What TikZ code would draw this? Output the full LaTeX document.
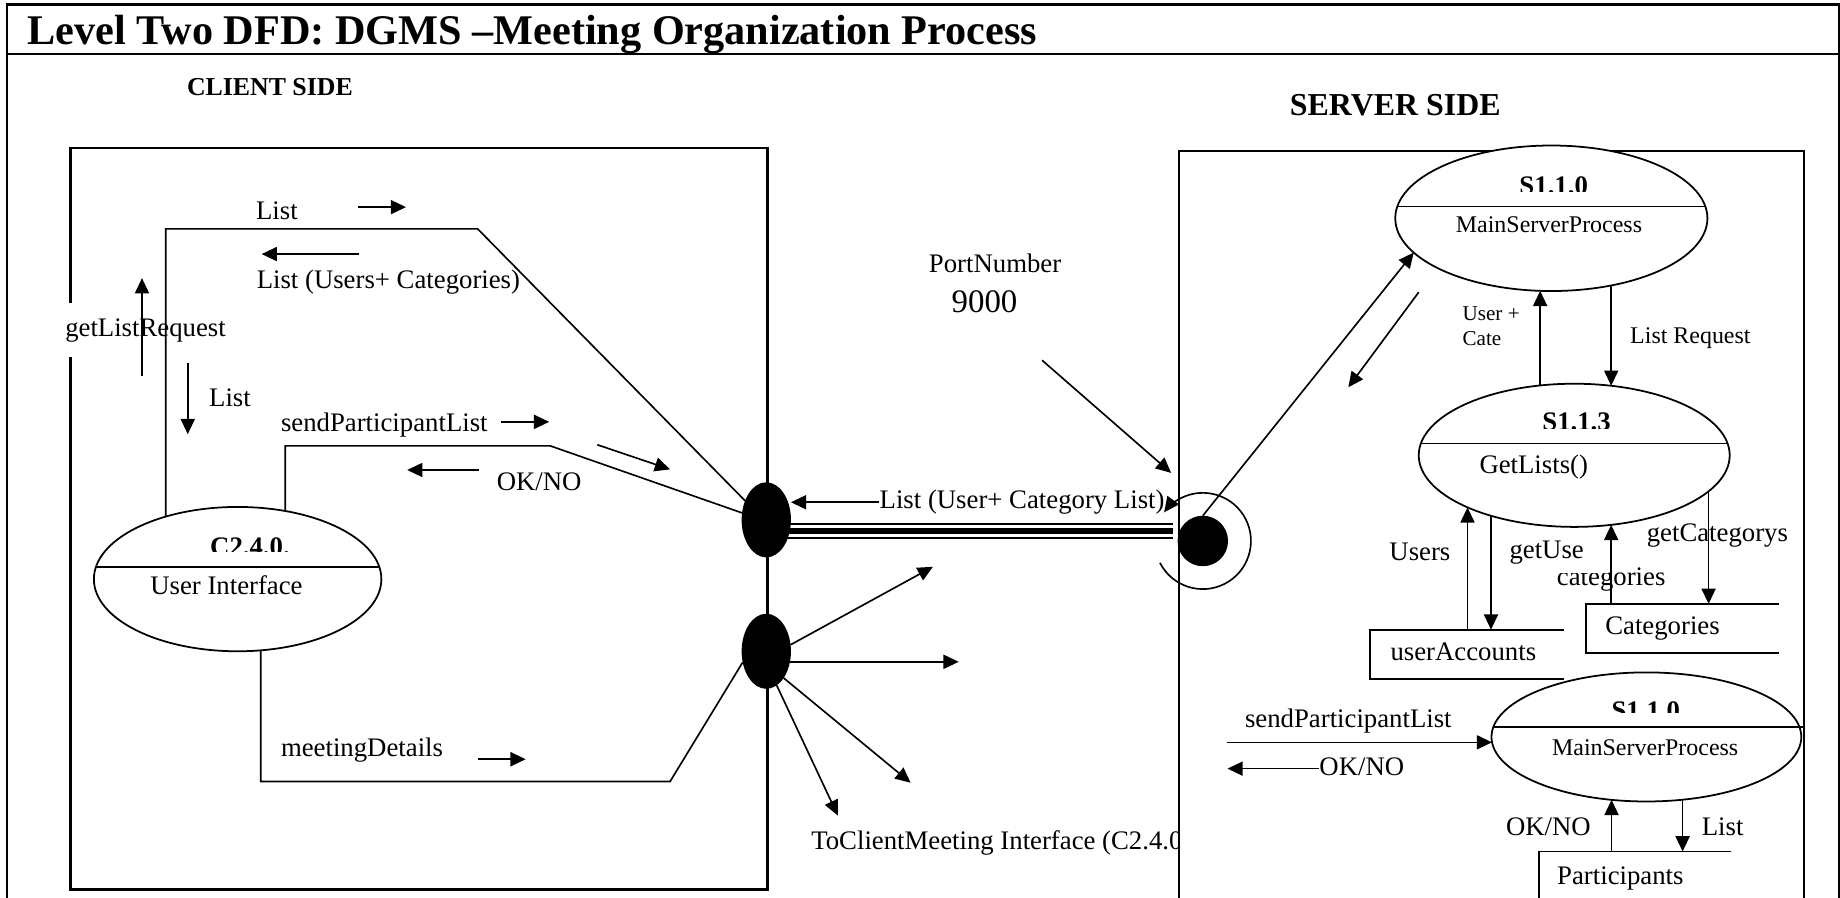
\documentclass[tikz,border=0pt]{standalone}
\usepackage{fontspec}
\setmainfont{Liberation Serif}
\usetikzlibrary{arrows.meta,shapes.geometric,calc}

\newcommand\fsz[1]{\fontsize{#1}{#1}\selectfont}

\begin{document}
\begin{tikzpicture}[x=0.5pt,y=-0.5pt,
  thinline/.style={line width=0.7pt},
  arr/.style={line width=0.7pt,-{Triangle[length=6.5pt,width=6pt]}},
  lbl/.style={font=\fsz{11.4}, inner sep=0pt, text height=8pt, text depth=2.4pt},
  small/.style={font=\fsz{10.2}, inner sep=0pt, text height=7.2pt, text depth=2.1pt},
  head/.style={font=\bfseries\fsz{11.4}, inner sep=0pt, anchor=base},
  proc/.style={ellipse, draw, line width=0.75pt, fill=white, inner sep=0pt, outer sep=0pt},
  oval/.style={ellipse, fill=black, inner sep=0pt, outer sep=0pt, minimum width=21pt, minimum height=32pt},
  store/.style={rectangle, inner sep=0pt, font=\fsz{11.4}, align=left, text height=8pt, text depth=2.4pt, minimum height=20.5pt},
  divider/.style={line width=0.75pt}
]
\useasboundingbox (0,0) rectangle (1568,765);

% outer frame and title bar
\draw[line width=1.15pt] (6,800) -- (6,4) -- (1567,4) -- (1567,800);
\draw[line width=1.15pt] (6,46) -- (1567,46);
\node[font=\bfseries\fsz{18}, anchor=base west, inner sep=0pt] (title) at (23,38) {Level Two DFD: DGMS –Meeting Organization Process};
\node[font=\bfseries\fsz{11}, anchor=base, inner sep=0pt] (clientlbl) at (230,81) {CLIENT SIDE};
\node[font=\bfseries\fsz{13.6}, anchor=base, inner sep=0pt] (serverlbl) at (1189,98) {SERVER SIDE};

% client and server boundaries
\node[draw, line width=1pt, minimum width=297pt, minimum height=316pt, inner sep=0pt] (client) at (357,442) {};
\node[draw, line width=0.75pt, minimum width=266pt, minimum height=335.5pt, inner sep=0pt] (server) at (1271,464.5) {};

\node[lbl, fill=white, inner ysep=6.35pt] (glr) at (124,281) {getListRequest};

% processes
\node[proc, minimum width=122.5pt, minimum height=61.5pt] (E1) at (202.5,493.5) {};
\node[proc, minimum width=133pt, minimum height=62pt] (E2) at (1322,186) {};
\node[proc, minimum width=132.5pt, minimum height=61pt] (E3) at (1341.5,388) {};
\node[proc, minimum width=132pt, minimum height=55pt] (E4) at (1403,628) {};

\draw[divider] ($(E1.center)+(-120.7,-10.5)$) -- ($(E1.center)+(120.7,-10.5)$);
\draw[divider] ($(E2.center)+(-131.3,-10)$) -- ($(E2.center)+(131.3,-10)$);
\draw[divider] ($(E3.center)+(-130.7,-10)$) -- ($(E3.center)+(130.7,-10)$);
\draw[divider] ($(E4.center)+(-130.4,-8.5)$) -- ($(E4.center)+(134,-8.5)$);

\begin{scope}
  \clip (100,440) rectangle (320,470);
  \node[head] (E1h) at (213,473) {C2.4.0.};
\end{scope}
\begin{scope}
  \clip (1250,140) rectangle (1400,163.5);
  \node[head] (E2h) at (1324,166) {S1.1.0};
\end{scope}
\begin{scope}
  \clip (1270,340) rectangle (1420,365);
  \node[head] (E3h) at (1343.5,367) {S1.1.3};
\end{scope}
\begin{scope}
  \clip (1330,585) rectangle (1480,607.5);
  \node[head] (E4h) at (1402.5,613) {S1.1.0};
\end{scope}

\node[lbl] (E1b) at (193,501) {User Interface};
\node[small] (E2b) at (1320,193) {MainServerProcess};
\node[lbl] (E3b) at (1307,398) {GetLists()};
\node[small] (E4b) at (1402,639) {MainServerProcess};

% socket ends
\node[oval] (O1) at (653,443) {};
\node[oval] (O2) at (653,555) {};
\node[circle, fill=black, minimum size=21.5pt, inner sep=0pt, outer sep=0pt] (SC) at (1025,461) {};

% client-side flows
\coordinate (c1) at (407,195);
\coordinate (c2) at (469,380);
\coordinate (c3) at (571,666);
\draw[thinline] (E1.139) |- (c1) -- (O1.138);
\draw[thinline] (E1.55) |- (c2) -- (O1.164);
\draw[thinline] (E1.288) |- (c3) -- (O2.205);

\node[lbl] (list1) at (236,181.5) {List};
\coordinate (a1s) at (305,176.5); \coordinate (a1e) at (346,176.5);
\draw[arr] (a1s) -- (a1e);
\coordinate (a2s) at (306,216.5); \coordinate (a2e) at (223,216.5);
\draw[arr] (a2s) -- (a2e);
\node[lbl] (luc) at (331,240.5) {List (Users+ Categories)};
\coordinate (a3s) at (121,320); \coordinate (a3e) at (121,237);
\draw[arr] (a3s) -- (a3e);
\coordinate (a4s) at (160,309); \coordinate (a4e) at (160,370);
\draw[arr] (a4s) -- (a4e);
\node[lbl] (list2) at (196,341) {List};
\node[lbl] (spl) at (327.5,362) {sendParticipantList};
\coordinate (a5s) at (427,359.5); \coordinate (a5e) at (468,359.5);
\draw[arr] (a5s) -- (a5e);
\coordinate (a6s) at (408,400.5); \coordinate (a6e) at (347,400.5);
\draw[arr] (a6s) -- (a6e);
\node[lbl] (ok1) at (459.5,412) {OK/NO};
\coordinate (a7s) at (509,379); \coordinate (a7e) at (571,400);
\draw[arr] (a7s) -- (a7e);
\node[lbl] (md) at (308.5,639) {meetingDetails};
\coordinate (a8s) at (407,647); \coordinate (a8e) at (448,647);
\draw[arr] (a8s) -- (a8e);

% link between client and server
\node[lbl] (ucl) at (871,428) {List (User+ Category List)};
\draw[arr] (ucl.west) -- (ucl.west -| O1.east);
\draw[line width=0.9pt] ($(O1.center)+(19,3.5)$) -- ($(SC.center)+(-25,-14.5)$);
\draw[line width=2.2pt] ($(O1.center)+(19,9.5)$) -- ($(SC.center)+(-25,-8.5)$);
\draw[line width=0.9pt] ($(O1.center)+(18,15.5)$) -- ($(SC.center)+(-25,-2.5)$);

% outgoing flows of the lower socket
\coordinate (o2a) at (795,483);
\coordinate (o2b) at (817,564);
\coordinate (o2c) at (776,667);
\coordinate (o2d) at (714,695);
\draw[arr] (O2.15) -- (o2a);
\draw[arr] (O2.336) -- (O2.336 -| o2b);
\draw[arr] (O2.303) -- (o2c);
\draw[arr] (O2.287) -- (o2d);
\begin{scope}
  \clip (680,700) rectangle (1004,740);
  \node[lbl, anchor=west] (tcm) at (691,718) {ToClientMeeting Interface (C2.4.0};
\end{scope}

% port
\node[lbl] (pn) at (848,227) {PortNumber};
\node[font=\fsz{14}, inner sep=0pt] (pnum) at (839,257) {9000};
\coordinate (pa1) at (888,307); \coordinate (pa2) at (998,403);
\draw[arr] (pa1) -- (pa2);
\draw[arr] ($(SC.center)+(153:41)$) arc[start angle=153, end angle=-143.5, radius=41];

% server-side flows
\draw[arr] (SC.north) -- (E2.194);
\coordinate (a9s) at (1209,249); \coordinate (a9e) at (1149,330);
\draw[arr] (a9s) -- (a9e);
\draw[arr] (E3.116) -- (E3.116 |- E2.261);
\draw[arr] (E3.62 |- E2.312) -- (E3.62);
\node[font=\fontsize{9}{10.5}\selectfont, inner sep=0pt, align=left, anchor=north west] (uc) at (1246,261) {User +\\Cate};
\node[small] (lr) at (1440.5,288) {List Request};

% data stores
\node[store, minimum width=82pt, inner xsep=8.5pt, text width=65pt] (UA) at (1250,557.5) {userAccounts};
\node[store, minimum width=82pt, inner xsep=8pt, text width=66pt] (CT) at (1434,535.5) {Categories};
\node[store, minimum width=81.5pt, inner xsep=7.5pt, text width=66.5pt, minimum height=22pt] (PT) at (1393.5,748) {Participants};
\draw[thinline] (UA.north east) -- (UA.north west) -- (UA.south west) -- (UA.south east);
\draw[thinline] (CT.north east) -- (CT.north west) -- (CT.south west) -- (CT.south east);
\draw[thinline] (PT.north east) -- (PT.north west) -- (PT.south west) -- (PT.south east);

\draw[arr] (E3.206 |- UA.north) -- (E3.206);
\draw[arr] (E3.216) -- (E3.216 |- UA.north);
\draw[arr] (E3.298 |- CT.north) -- (E3.298);
\draw[arr] (E3.345) -- (E3.345 |- CT.north);
\node[lbl] (users) at (1210,472) {Users};
\node[lbl] (getuse) at (1318,470) {getUse};
\begin{scope}
  \clip (1300,488.5) rectangle (1371,512) (1371,470) rectangle (1440,512);
  \node[lbl] (cats) at (1373,493) {categories};
\end{scope}
\node[lbl] (getcat) at (1463.5,456) {getCategorys};

\coordinate (sp2s) at (1046,633);
\draw[arr] (sp2s |- E4.182) -- (E4.182);
\node[lbl] (spl2) at (1149,614) {sendParticipantList};
\node[lbl, anchor=west] (ok2) at (1124,655) {OK/NO};
\draw[arr] (ok2.west) -- (ok2.west -| sp2s);
\draw[arr] (E4.241 |- PT.north) -- (E4.241);
\draw[arr] (E4.300) -- (E4.300 |- PT.north);
\node[lbl] (ok3) at (1319.5,706) {OK/NO};
\node[lbl] (list3) at (1468,706) {List};
\end{tikzpicture}
\end{document}
